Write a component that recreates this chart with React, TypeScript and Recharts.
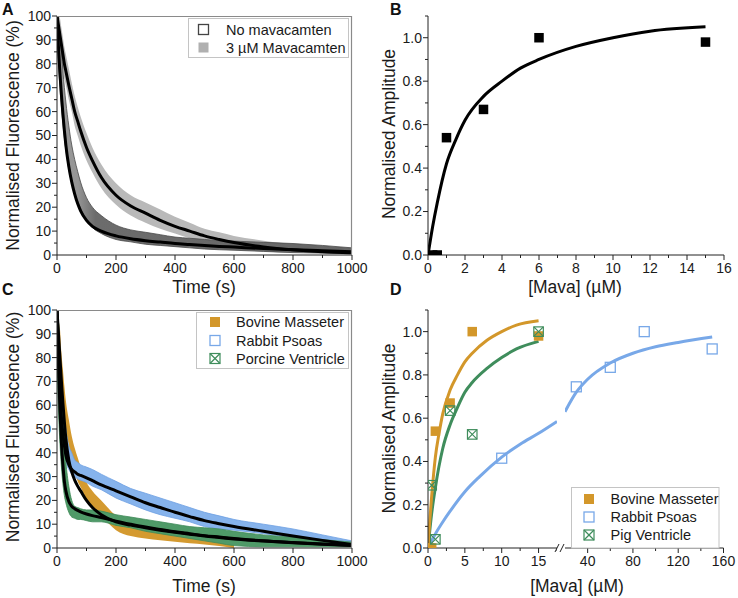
import React from 'react';
import { ComposedChart, Line, Area, Scatter, XAxis, YAxis } from 'recharts';

const FONT = '"Liberation Sans", Arial, Helvetica, sans-serif';
const AXIS = '#222';
const TXT = '#1a1a1a';

// ---------- Panel A / C : time courses ----------
const timeGrid = [0, 5, 10, 15, 20, 25, 30, 40, 50, 60, 70, 80, 100, 120, 150, 200, 250, 300, 350, 400, 450, 500, 550, 600, 700, 800, 900, 1000];

const noMavaFit = [100, 87, 76, 67, 59, 52, 46, 37, 30.5, 25.5, 21.5, 18.5, 14.5, 12, 10, 8, 6.8, 6, 5.4, 4.8, 4.4, 4, 3.6, 3.3, 2.7, 2.2, 1.8, 1.4];
const noMavaLow = [90, 80, 70, 62, 55, 49, 44, 36, 30, 26, 22.5, 19.5, 14.5, 11.5, 9, 6.5, 5.5, 4.5, 4, 3.5, 3, 2.5, 2.2, 2, 1.5, 1, 0.8, 0.5];
const noMavaHigh = [100, 97, 92, 85, 77, 70, 64, 54, 46, 40, 35, 30.5, 24, 20, 16.5, 12.5, 10.5, 9.5, 8.5, 7.5, 7, 6.5, 6, 5.8, 5.3, 4.8, 4, 3];

const mavaFit = [100, 96, 92, 88, 84, 80, 77, 71, 65.5, 60, 56, 52, 45, 39.5, 32.5, 25, 20.5, 17.5, 14.5, 12, 10, 8, 6.5, 5.2, 3.4, 2.2, 1.4, 0.9];
const mavaLow = [95, 90, 86, 82, 78, 74, 71, 65, 60, 54, 50, 46, 39.5, 34.5, 28, 21, 16.5, 13.5, 11, 9, 7, 5.5, 4.5, 3.5, 2, 1.2, 0.8, 0.5];
const mavaHigh = [100, 100, 99, 95, 91, 87, 84, 78, 72, 66.5, 62, 58, 51, 45, 38, 30, 25, 22, 19, 16, 13.5, 11, 9.5, 8, 6, 4.5, 3.5, 2.5];

const bovineFitC = [100, 90, 80, 70, 61, 53, 46, 37, 32, 28.5, 26, 24, 20, 17, 14, 11, 9.6, 8.5, 7.5, 6.6, 5.8, 5, 4.4, 3.8, 2.9, 2.2, 1.6, 1.1];
const bovineLowC = [88, 84, 78, 66, 60, 55, 50, 43, 37, 32, 28, 25.5, 20.5, 17.5, 13.5, 7.5, 5, 4, 3.3, 2.6, 2, 1.5, 0.8, 0, null, null, null, null];
const bovineHighC = [95, 95, 92, 82, 75, 68, 62, 54, 47, 42, 38, 34, 27.5, 24, 20, 13.5, 9.5, 7.5, 6.5, 5.5, 4.8, 4, 3, 1.5, null, null, null, null];

const rabbitFitC = [100, 80, 65, 55, 48, 43, 39, 35, 33, 32, 31, 30.5, 29.5, 28.3, 26.5, 24, 21.5, 19, 17, 15, 13.2, 11.5, 10.2, 9, 7, 5, 3.2, 1.5];
const rabbitLowC = [88, 70, 55, 47, 42, 38.5, 36, 33, 31, 30, 29, 28.5, 27.5, 26, 24.5, 21, 18.5, 16, 14, 12.5, 11, 9, 8, 7.5, 6, 4.5, 3.5, 1.5];
const rabbitHighC = [100, 95, 82, 70, 62, 55, 50, 43, 40, 37, 36, 35, 34, 33, 31, 28, 25, 23, 21, 19, 17, 15, 13.5, 12, 10, 8, 5.5, 3];

const porcineFitC = [100, 78, 58, 44, 35, 28, 24, 19.5, 17.5, 16.5, 15.8, 15.2, 14.3, 13.6, 12.8, 11.3, 10, 8.8, 7.8, 6.8, 6, 5.2, 4.6, 4, 3, 2.3, 1.7, 1.2];
const porcineLowC = [80, 58, 44, 34, 27, 22, 19, 15, 13, 12.5, 12, 12, 11.5, 11, 11, 9.5, 8.5, 7, 6, 5, 4, 3, 2, 1, 0.5, 0.5, 0.5, 0.5];
const porcineHighC = [100, 95, 80, 65, 52, 43, 36, 26, 20, 17.5, 17, 16.5, 16, 16, 15.5, 14, 13, 12, 11, 10, 9, 8.5, 8, 7, 5.5, 4.5, 3.5, 2.5];

const timeTicks = [0, 100, 200, 300, 400, 500, 600, 700, 800, 900, 1000];
const timeMajors = [0, 200, 400, 600, 800, 1000];
const fluorTicks = [0, 5, 10, 15, 20, 25, 30, 35, 40, 45, 50, 55, 60, 65, 70, 75, 80, 85, 90, 95, 100];
const fluorMajors = [0, 10, 20, 30, 40, 50, 60, 70, 80, 90, 100];

// ---------- Panel B / D : amplitude vs [Mava] ----------
const bovineX = [0.25, 0.5, 1, 3, 6, 15];
const bovineY = [0, 0, 0.54, 0.67, 1.0, 0.98];
const pigX = [0.5, 1, 3, 6, 15];
const pigY = [0.29, 0.04, 0.635, 0.525, 1.0];
const rabbitX = [10, 30, 60, 90, 150];
const rabbitY = [0.415, 0.745, 0.835, 1.0, 0.92];

const bovineCurveX = [0, 0.25, 0.5, 1, 1.5, 2, 3, 4, 5, 6, 8, 10, 12, 15];
const bovineCurveY = [0, 0.13, 0.24, 0.42, 0.53, 0.62, 0.73, 0.8, 0.86, 0.9, 0.96, 1.0, 1.03, 1.05];
const pigCurveX = [0, 0.5, 1, 2, 3, 4, 5, 6, 8, 10, 12, 15];
const pigCurveY = [0, 0.16, 0.28, 0.46, 0.57, 0.65, 0.72, 0.765, 0.83, 0.88, 0.92, 0.955];
const rabbitCurveX = [0, 1, 2, 3, 5, 7, 10, 12.5, 15, 17.5, 20, 30, 40, 60, 80, 100, 120, 150];
const rabbitCurveY = [0, 0.065, 0.12, 0.17, 0.26, 0.33, 0.42, 0.48, 0.53, 0.585, 0.63, 0.72, 0.78, 0.855, 0.9, 0.93, 0.95, 0.975];

const ampTicks = [0, 0.1, 0.2, 0.3, 0.4, 0.5, 0.6, 0.7, 0.8, 0.9, 1.0, 1.1];
const ampMajors = [0, 0.2, 0.4, 0.6, 0.8, 1.0];
const mavaTicksB = [0, 1, 2, 3, 4, 5, 6, 7, 8, 9, 10, 11, 12, 13, 14, 15, 16];
const mavaMajorsB = [0, 2, 4, 6, 8, 10, 12, 14, 16];
const mavaTicksDLow = [0, 2.5, 5, 7.5, 10, 12.5, 15, 17.5];
const mavaMajorsDLow = [0, 5, 10, 15];
const mavaTicksDHigh = [40, 60, 80, 100, 120, 140, 160];
const mavaMajorsDHigh = [40, 80, 120, 160];

const namesA = ['No mavacamten', '3 µM Mavacamten'];
const namesC = ['Bovine Masseter', 'Rabbit Psoas', 'Porcine Ventricle'];
const namesD = ['Bovine Masseter', 'Rabbit Psoas', 'Pig Ventricle'];

// colours
const ORANGE = '#d3972a';
const BLUE = '#78a8e8';
const GREEN = '#3f8d5c';
const LIGHTGREY = '#b9b9b9';
const FRAME = '#8a8a8a';

// ---------- tables ----------
const tableA = timeGrid.map((t, i) => ({
  t,
  noMavaBand: [noMavaLow[i], noMavaHigh[i]],
  mavaBand: [mavaLow[i], mavaHigh[i]],
  noMavaFit: noMavaFit[i],
  mavaFit: mavaFit[i],
}));

const tableC = timeGrid.map((t, i) => ({
  t,
  bovineBand: bovineLowC[i] == null ? null : [bovineLowC[i], bovineHighC[i]],
  rabbitBand: [rabbitLowC[i], rabbitHighC[i]],
  porcineBand: [porcineLowC[i], porcineHighC[i]],
  bovineFit: bovineFitC[i],
  rabbitFit: rabbitFitC[i],
  porcineFit: porcineFitC[i],
}));

const zip = (xs: number[], ys: number[]) => xs.map((x, i) => ({ x, y: ys[i] }));
const bovinePts = zip(bovineX, bovineY);
const pigPts = zip(pigX, pigY);
const rabbitPts = zip(rabbitX, rabbitY);
const bovineCurve = zip(bovineCurveX, bovineCurveY);
const pigCurve = zip(pigCurveX, pigCurveY);
const rabbitCurve = zip(rabbitCurveX, rabbitCurveY);
const rabbitCurveLow = rabbitCurve.filter((p) => p.x <= 17.5);
const rabbitCurveHigh = rabbitCurve.filter((p) => p.x >= 20);
const rabbitPtsLow = rabbitPts.filter((p) => p.x <= 17.5);
const rabbitPtsHigh = rabbitPts.filter((p) => p.x >= 20);

// ---------- ticks ----------
const isIn = (arr: number[], v: number) => arr.some((m) => Math.abs(m - v) < 1e-6);

const makeXTick = (majors: number[], fmt: (v: number) => string) => (props: any) => {
  const { x, y, payload } = props;
  const v = payload.value;
  const major = isIn(majors, v);
  return (
    <g>
      <line x1={x} x2={x} y1={y} y2={y + (major ? 5 : 3)} stroke={AXIS} strokeWidth={1} />
      {major && (
        <text x={x} y={y + 8} dy="0.71em" textAnchor="middle" fontSize={14} fill={TXT} fontFamily={FONT}>
          {fmt(v)}
        </text>
      )}
    </g>
  );
};

const makeYTick = (majors: number[], fmt: (v: number) => string) => (props: any) => {
  const { x, y, payload } = props;
  const v = payload.value;
  const major = isIn(majors, v);
  return (
    <g>
      <line x1={x} x2={x - (major ? 5 : 3)} y1={y} y2={y} stroke={AXIS} strokeWidth={1} />
      {major && (
        <text x={x - 6} y={y} dy="0.35em" textAnchor="end" fontSize={14} fill={TXT} fontFamily={FONT}>
          {fmt(v)}
        </text>
      )}
    </g>
  );
};

const intFmt = (v: number) => String(Math.round(v));
const decFmt = (v: number) => v.toFixed(1);

// ---------- marker shapes ----------
const filledSquare = (color: string, s: number) => (p: any) => (
  <rect x={p.cx - s / 2} y={p.cy - s / 2} width={s} height={s} fill={color} />
);
const openSquare = (color: string, s: number) => (p: any) => (
  <rect x={p.cx - s / 2} y={p.cy - s / 2} width={s} height={s} fill="none" stroke={color} strokeWidth={1.3} />
);
const crossSquare = (color: string, s: number) => (p: any) => (
  <g stroke={color} strokeWidth={1.2} fill="none">
    <rect x={p.cx - s / 2} y={p.cy - s / 2} width={s} height={s} />
    <line x1={p.cx - s / 2} y1={p.cy - s / 2} x2={p.cx + s / 2} y2={p.cy + s / 2} />
    <line x1={p.cx - s / 2} y1={p.cy + s / 2} x2={p.cx + s / 2} y2={p.cy - s / 2} />
  </g>
);

const legendMarker = (kind: string, color: string, cx: number, cy: number, s = 10) => {
  if (kind === 'filled') return <rect x={cx - s / 2} y={cy - s / 2} width={s} height={s} fill={color} />;
  if (kind === 'open')
    return <rect x={cx - s / 2} y={cy - s / 2} width={s} height={s} fill="#fff" stroke={color} strokeWidth={1.3} />;
  return (
    <g stroke={color} strokeWidth={1.2} fill="none">
      <rect x={cx - s / 2} y={cy - s / 2} width={s} height={s} />
      <line x1={cx - s / 2} y1={cy - s / 2} x2={cx + s / 2} y2={cy + s / 2} />
      <line x1={cx - s / 2} y1={cy + s / 2} x2={cx + s / 2} y2={cy - s / 2} />
    </g>
  );
};

const abs = (left: number, top: number): React.CSSProperties => ({ position: 'absolute', left, top });

export default function App() {
  const bandProps = { type: 'monotone' as const, isAnimationActive: false, dot: false, activeDot: false, fillOpacity: 1 };
  const fitProps = { type: 'monotone' as const, isAnimationActive: false, dot: false, activeDot: false };
  return (
    <div style={{ position: 'absolute', left: 0, top: 0, width: 738, height: 598, background: '#fff', fontFamily: FONT }}>
      {/* Panel A */}
      <div style={abs(0, 0)}>
        <ComposedChart width={369} height={298} data={tableA} margin={{ top: 16, right: 17, bottom: 0, left: 0 }}>
          <defs>
            <linearGradient id="noMavaFill" x1="0" y1="0" x2="1" y2="0">
              <stop offset="0" stopColor="#9a9a9a" />
              <stop offset="0.07" stopColor="#959595" />
              <stop offset="0.13" stopColor="#6c6c6c" />
              <stop offset="1" stopColor="#666" />
            </linearGradient>
          </defs>
          <XAxis dataKey="t" type="number" domain={[0, 1000]} ticks={timeTicks} interval={0} allowDataOverflow
            tickSize={0} tickMargin={0} tickLine={false} tick={makeXTick(timeMajors, intFmt)} height={43} axisLine={{ stroke: AXIS }} />
          <YAxis type="number" domain={[0, 100]} ticks={fluorTicks} interval={0} allowDataOverflow width={57}
            tickSize={0} tickMargin={0} tickLine={false} tick={makeYTick(fluorMajors, intFmt)} axisLine={{ stroke: AXIS }} />
          <Area {...bandProps} dataKey="mavaBand" stroke="none" fill={LIGHTGREY} />
          <Area {...bandProps} dataKey="noMavaBand" stroke="#4a4a4a" strokeWidth={0.8} fill="url(#noMavaFill)" />
          <Line {...fitProps} dataKey="mavaFit" stroke="#000" strokeWidth={3} />
          <Line {...fitProps} dataKey="noMavaFit" stroke="#000" strokeWidth={3} />
        </ComposedChart>
      </div>

      {/* Panel B */}
      <div style={abs(369, 0)}>
        <ComposedChart width={369} height={298} margin={{ top: 16, right: 14, bottom: 0, left: 0 }}>
          <XAxis dataKey="x" type="number" domain={[0, 16]} ticks={mavaTicksB} interval={0} allowDataOverflow
            tickSize={0} tickMargin={0} tickLine={false} tick={makeXTick(mavaMajorsB, intFmt)} height={43} axisLine={{ stroke: AXIS }} />
          <YAxis type="number" domain={[0, 1.1]} ticks={ampTicks} interval={0} allowDataOverflow width={59}
            tickSize={0} tickMargin={0} tickLine={false} tick={makeYTick(ampMajors, decFmt)} axisLine={{ stroke: AXIS }} />
          <Line {...fitProps} data={bovineCurve} dataKey="y" stroke="#000" strokeWidth={3} />
          <Scatter data={bovinePts} dataKey="y" isAnimationActive={false} shape={filledSquare('#000', 9.5)} />
        </ComposedChart>
      </div>

      {/* Panel C */}
      <div style={abs(0, 298)}>
        <ComposedChart width={369} height={300} data={tableC} margin={{ top: 12, right: 17, bottom: 0, left: 0 }}>
          <XAxis dataKey="t" type="number" domain={[0, 1000]} ticks={timeTicks} interval={0} allowDataOverflow
            tickSize={0} tickMargin={0} tickLine={false} tick={makeXTick(timeMajors, intFmt)} height={50} axisLine={{ stroke: AXIS }} />
          <YAxis type="number" domain={[0, 100]} ticks={fluorTicks} interval={0} allowDataOverflow width={57}
            tickSize={0} tickMargin={0} tickLine={false} tick={makeYTick(fluorMajors, intFmt)} axisLine={{ stroke: AXIS }} />
          <Area {...bandProps} dataKey="bovineBand" stroke="none" fill="#d49a30" />
          <Area {...bandProps} dataKey="rabbitBand" stroke="#6d9fe2" strokeWidth={0.8} fill="#86b3ec" />
          <Area {...bandProps} dataKey="porcineBand" stroke="#3f8a58" strokeWidth={0.8} fill="#4f9a68" />
          <Line {...fitProps} dataKey="rabbitFit" stroke="#000" strokeWidth={3} />
          <Line {...fitProps} dataKey="bovineFit" stroke="#000" strokeWidth={3} />
          <Line {...fitProps} dataKey="porcineFit" stroke="#000" strokeWidth={3} />
        </ComposedChart>
      </div>

      {/* Panel D - low segment */}
      <div style={abs(369, 298)}>
        <ComposedChart width={188} height={300} margin={{ top: 12, right: 0, bottom: 0, left: 0 }}>
          <XAxis dataKey="x" type="number" domain={[0, 17.5]} ticks={mavaTicksDLow} interval={0} allowDataOverflow
            tickSize={0} tickMargin={0} tickLine={false} tick={makeXTick(mavaMajorsDLow, intFmt)} height={50} axisLine={{ stroke: AXIS }} />
          <YAxis type="number" domain={[0, 1.1]} ticks={ampTicks} interval={0} allowDataOverflow width={59}
            tickSize={0} tickMargin={0} tickLine={false} tick={makeYTick(ampMajors, decFmt)} axisLine={{ stroke: AXIS }} />
          <Line {...fitProps} data={rabbitCurveLow} dataKey="y" stroke={BLUE} strokeWidth={3} />
          <Line {...fitProps} data={pigCurve} dataKey="y" stroke={GREEN} strokeWidth={3} />
          <Line {...fitProps} data={bovineCurve} dataKey="y" stroke={ORANGE} strokeWidth={3} />
          <Scatter data={bovinePts} dataKey="y" isAnimationActive={false} shape={filledSquare(ORANGE, 9.5)} />
          <Scatter data={rabbitPtsLow} dataKey="y" isAnimationActive={false} shape={openSquare(BLUE, 10)} />
          <Scatter data={pigPts} dataKey="y" isAnimationActive={false} shape={crossSquare(GREEN, 9.5)} />
        </ComposedChart>
      </div>

      {/* Panel D - high segment */}
      <div style={abs(560, 298)}>
        <ComposedChart width={178} height={300} margin={{ top: 12, right: 14.5, bottom: 0, left: 5 }}>
          <XAxis dataKey="x" type="number" domain={[20, 160]} ticks={mavaTicksDHigh} interval={0} allowDataOverflow
            tickSize={0} tickMargin={0} tickLine={false} tick={makeXTick(mavaMajorsDHigh, intFmt)} height={50} axisLine={{ stroke: AXIS }} />
          <YAxis hide type="number" domain={[0, 1.1]} allowDataOverflow />
          <Line {...fitProps} data={rabbitCurveHigh} dataKey="y" stroke={BLUE} strokeWidth={3} />
          <Scatter data={rabbitPtsHigh} dataKey="y" isAnimationActive={false} shape={openSquare(BLUE, 10)} />
        </ComposedChart>
      </div>

      {/* Overlay: frames, panel letters, axis titles, legends, axis break */}
      <svg width={738} height={598} style={{ position: 'absolute', left: 0, top: 0, pointerEvents: 'none' }} fontFamily={FONT}>
        <line x1={57} y1={16.5} x2={352} y2={16.5} stroke={FRAME} strokeWidth={1.2} />
        <line x1={351.5} y1={16} x2={351.5} y2={255} stroke={FRAME} strokeWidth={1.2} />
        <line x1={57} y1={310.5} x2={352} y2={310.5} stroke={FRAME} strokeWidth={1.2} />
        <line x1={351.5} y1={310} x2={351.5} y2={548} stroke={FRAME} strokeWidth={1.2} />
        <g fontWeight="bold" fontSize={16} fill="#111">
          <text x={2} y={15}>A</text>
          <text x={390} y={15}>B</text>
          <text x={2} y={295}>C</text>
          <text x={390} y={295}>D</text>
        </g>
        <g fontSize={17.5} fill={TXT} textAnchor="middle">
          <text transform="translate(18.5,135.5) rotate(-90)">Normalised Fluorescence (%)</text>
          <text x={204} y={293}>Time (s)</text>
          <text transform="translate(394.5,134) rotate(-90)">Normalised Amplitude</text>
          <text x={575} y={293}>[Mava] (µM)</text>
          <text transform="translate(18.5,427) rotate(-90)">Normalised Fluorescence (%)</text>
          <text x={204} y={592}>Time (s)</text>
          <text transform="translate(394.5,428.5) rotate(-90)">Normalised Amplitude</text>
          <text x={577} y={592}>[Mava] (µM)</text>
        </g>

        {/* Legend A */}
        <rect x={188.5} y={18.5} width={160} height={39} fill="#fff" stroke="#c4c4c4" />
        {legendMarker('open', '#444', 203.5, 29.5)}
        {legendMarker('filled', '#b0b0b0', 203.5, 47.5)}
        <g fontSize={14.5} fill={TXT}>
          <text x={226} y={34.5}>{namesA[0]}</text>
          <text x={226} y={53}>{namesA[1]}</text>
        </g>

        {/* Legend C */}
        <rect x={196.5} y={312.5} width={152} height={56} fill="#fff" stroke="#c4c4c4" />
        {legendMarker('filled', ORANGE, 215, 322)}
        {legendMarker('open', BLUE, 215, 340.5)}
        {legendMarker('cross', GREEN, 215, 358.5)}
        <g fontSize={14.5} fill={TXT}>
          <text x={236} y={327}>{namesC[0]}</text>
          <text x={236} y={345.5}>{namesC[1]}</text>
          <text x={236} y={363.5}>{namesC[2]}</text>
        </g>

        {/* Legend D */}
        <rect x={571.5} y={487.5} width={147.5} height={60.5} fill="#fff" stroke="#c4c4c4" />
        {legendMarker('filled', ORANGE, 589, 499)}
        {legendMarker('open', BLUE, 589, 517)}
        {legendMarker('cross', GREEN, 589, 535)}
        <g fontSize={14.5} fill={TXT}>
          <text x={610.5} y={504}>{namesD[0]}</text>
          <text x={610.5} y={522}>{namesD[1]}</text>
          <text x={610.5} y={540}>{namesD[2]}</text>
        </g>

        {/* axis break marks */}
        <g stroke={AXIS} strokeWidth={1}>
          <line x1={555} y1={552} x2={559} y2={544} />
          <line x1={560} y1={552} x2={564} y2={544} />
        </g>
      </svg>
    </div>
  );
}
